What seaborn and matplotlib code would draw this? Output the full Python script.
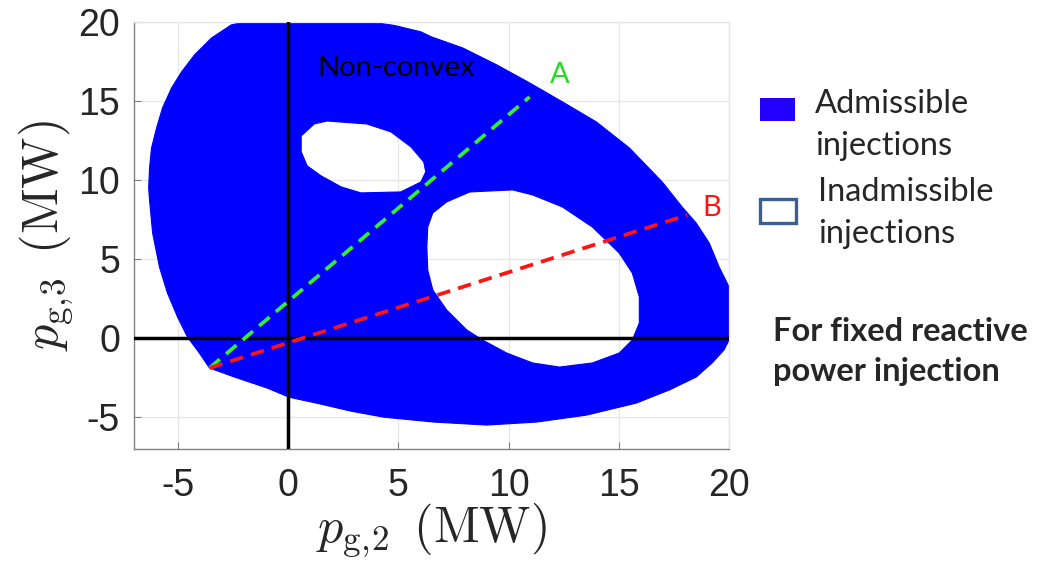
import numpy as np
import matplotlib
matplotlib.use("Agg")
import matplotlib.pyplot as plt
from matplotlib.path import Path
from matplotlib.patches import PathPatch, Rectangle
import seaborn as sns

# outer boundary of the admissible region (MW), clockwise from top-left
outer_x = [-1.99, 3.80, 4.80, 6.02, 6.50, 7.92, 9.46, 10.95, 12.44, 13.98, 15.48, 16.97, 17.87, 18.51,
           19.10, 19.55, 20.0, 20.0, 19.77, 19.23, 18.51, 17.29, 15.79, 13.53, 11.27, 9.0, 6.61, 4.34,
           2.85, 1.31, 0.05, -0.95, -2.44, -3.57, -4.03, -4.57, -5.02, -5.48, -5.84, -6.15, -6.29,
           -6.33, -6.29, -6.20, -5.97, -5.70, -5.29, -4.84, -4.25, -3.48, -2.58]
outer_y = [20.0, 20.0, 19.8, 19.39, 19.07, 18.37, 17.30, 16.16, 14.96, 13.69, 12.04, 9.89, 8.31, 7.29,
           6.03, 4.51, 3.25, -0.11, -0.74, -1.56, -2.45, -3.27, -4.10, -4.86, -5.30, -5.49, -5.30, -4.99,
           -4.61, -4.11, -3.73, -3.15, -2.45, -1.88, -0.93, 0.08, 1.35, 2.87, 4.51, 6.66, 8.75,
           9.51, 10.78, 12.04, 13.31, 14.58, 15.84, 16.85, 17.93, 19.0, 19.83]

# small hole (upper)
hole1_x = [0.59, 1.18, 1.76, 3.57, 4.66, 5.57, 6.15, 6.24, 6.02, 5.11, 3.30, 2.40, 1.49, 0.86, 0.59]
hole1_y = [12.80, 13.56, 13.75, 13.56, 13.06, 12.11, 11.16, 10.53, 9.89, 9.26, 9.20, 9.58, 10.28, 10.91, 11.80]

# large hole (lower right)
hole2_x = [6.33, 6.56, 7.19, 8.24, 10.18, 11.09, 12.44, 13.80, 15.02, 15.61, 15.93, 15.93, 15.61, 15.02,
           13.80, 12.31, 11.09, 9.91, 8.82, 8.10, 7.19, 6.56, 6.33, 6.29]
hole2_y = [7.04, 7.93, 8.63, 9.26, 9.39, 9.07, 8.31, 7.04, 5.39, 4.13, 2.61, 0.97, -0.11, -0.93,
           -1.56, -1.82, -1.56, -0.93, -0.11, 0.53, 1.79, 3.06, 4.32, 5.78]

# dashed paths from the common corner point
line_a_x = [-3.57, 10.95]
line_a_y = [-1.88, 15.27]
line_b_x = [-3.57, 18.1]
line_b_y = [-1.88, 7.8]

ticks = [-5, 0, 5, 10, 15, 20]

sns.set_theme(style="ticks")
plt.rcParams["mathtext.fontset"] = "cm"
plt.rcParams["axes.unicode_minus"] = False
plt.rcParams["font.family"] = ["Liberation Sans", "DejaVu Sans"]

fig = plt.figure(figsize=(10.46, 5.69), dpi=100)
ax = fig.add_axes([0.128, 0.211, 0.569, 0.750])


def ring(xs, ys, ccw):
    pts = np.column_stack([xs, ys])
    area = 0.5 * np.sum(pts[:, 0] * np.roll(pts[:, 1], -1) - np.roll(pts[:, 0], -1) * pts[:, 1])
    if (area > 0) != ccw:
        pts = pts[::-1]
    pts = np.vstack([pts, pts[:1]])
    codes = [Path.MOVETO] + [Path.LINETO] * (len(pts) - 2) + [Path.CLOSEPOLY]
    return pts, codes


verts, codes = [], []
for xs, ys, ccw in [(outer_x, outer_y, True), (hole1_x, hole1_y, False), (hole2_x, hole2_y, False)]:
    v, c = ring(xs, ys, ccw)
    verts.append(v)
    codes += c
region = Path(np.vstack(verts), codes)
ax.add_patch(PathPatch(region, facecolor="#0000FF", edgecolor="#0000FF", lw=0.8,
                       joinstyle="round", zorder=2))

ax.axhline(0, color="black", lw=2.5, zorder=3)
ax.axvline(0, color="black", lw=2.5, zorder=3)

sns.lineplot(x=line_a_x, y=line_a_y, ax=ax, color="#33EE33", sort=False, zorder=4)
sns.lineplot(x=line_b_x, y=line_b_y, ax=ax, color="#FF1414", sort=False, zorder=4)
for ln in ax.lines[-2:]:
    ln.set_linewidth(2.7)
    ln.set_dashes((3.6, 2.2))
    ln.set_dash_capstyle("butt")

ax.text(12.3, 16.66, "A", color="#22DD22", fontsize=21, family="Lato", ha="center", va="center")
ax.text(19.23, 8.25, "B", color="#FF1414", fontsize=21, family="Lato", ha="center", va="center")
ax.text(1.31, 17.08, "Non-convex", color="black", fontsize=21, family="Lato", ha="left", va="center")

ax.set_xlim(-7, 20)
ax.set_ylim(-7, 20)
ax.set_xticks(ticks)
ax.set_yticks(ticks)
ax.grid(True, color="#e6e6e6", lw=0.9)
ax.set_axisbelow(True)
ax.tick_params(direction="in", length=5, width=0.8, color="#808080", labelsize=27,
               labelcolor="#262626", top=False, right=False)
ax.tick_params(axis="x", pad=14)
ax.tick_params(axis="y", pad=10)
for s in ["left", "bottom"]:
    ax.spines[s].set_color("#808080")
    ax.spines[s].set_linewidth(1.0)
for s in ["top", "right"]:
    ax.spines[s].set_color("#e6e6e6")
    ax.spines[s].set_linewidth(0.9)

ax.set_xlabel(r"$p_{\mathrm{g},\!2}\ \,(\mathrm{MW})$", fontsize=36, labelpad=-2)
ax.set_ylabel(r"$p_{\mathrm{g},\!3}\ \,(\mathrm{MW})$", fontsize=36, labelpad=2)

# legend drawn by hand to the right
fig.patches.append(Rectangle((0.7266, 0.787), 0.0335, 0.0404, transform=fig.transFigure,
                             facecolor="#2200FF", edgecolor="none"))
fig.patches.append(Rectangle((0.7265, 0.6083), 0.0345, 0.0420, transform=fig.transFigure,
                             facecolor="white", edgecolor="#3D5F8F", lw=2.4))
fig.text(0.779, 0.781, "Admissible\ninjections", fontsize=23.5, family="Lato", ha="left", va="center",
         linespacing=1.5)
fig.text(0.782, 0.625, "Inadmissible\ninjections", fontsize=23.5, family="Lato", ha="left", va="center",
         linespacing=1.5)
fig.text(0.739, 0.382, "For fixed reactive\npower injection", fontsize=23.5, family="Lato",
         fontweight="bold", ha="left", va="center", linespacing=1.45)

plt.savefig("out.png", dpi=100)
